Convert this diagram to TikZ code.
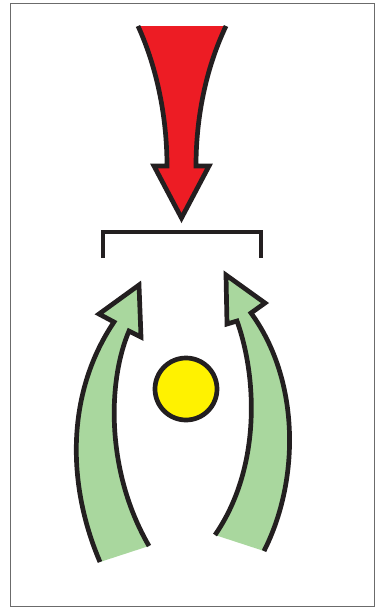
\documentclass[tikz,border=0pt]{standalone}
\definecolor{redA}{HTML}{ED1C24}
\definecolor{greenA}{HTML}{A9D79E}
\definecolor{yellowA}{HTML}{FFF200}
\definecolor{inkA}{HTML}{231F20}
\definecolor{frameA}{HTML}{6B6B6B}
\tikzset{
  outl/.style={draw=inkA,line width=4.7pt,line join=miter},
}
\begin{document}
\begin{tikzpicture}[x=1pt,y=-1pt]
\useasboundingbox (0,0) rectangle (376,608);
\draw[frameA,line width=1.2pt] (10.5,3.5) rectangle (374.5,606.5);
% red arrow
\fill[redA] (138,26) .. controls (158,70) and (167,120) .. (167,166) -- (154,166) -- (181.5,218) -- (209,166) -- (196,166) .. controls (196,120) and (205,70) .. (226,26) -- cycle;
\draw[outl] (138,26) .. controls (158,70) and (167,120) .. (167,166) -- (154,166) -- (181.5,218) -- (209,166) -- (196,166) .. controls (196,120) and (205,70) .. (226,26);
% bracket
\draw[outl] (103,258) -- (103,232) -- (261,232) -- (261,258);
% left green arrow
\fill[greenA] (100,562) .. controls (65,480) and (68,390) .. (114,322) -- (99,314) -- (139,285) -- (141,337) -- (129,331) .. controls (108,380) and (105,470) .. (149,546) -- cycle;
\draw[outl] (100,562) .. controls (65,480) and (68,390) .. (114,322) -- (99,314) -- (139,285) -- (141,337) -- (129,331) .. controls (108,380) and (105,470) .. (149,546);
% right green arrow
\fill[greenA] (215,535) .. controls (260,470) and (258,380) .. (237,321) -- (227,324) -- (226,275) -- (265,303) -- (251,313) .. controls (300,380) and (300,480) .. (264,551) -- cycle;
\draw[outl] (215,535) .. controls (260,470) and (258,380) .. (237,321) -- (227,324) -- (226,275) -- (265,303) -- (251,313) .. controls (300,380) and (300,480) .. (264,551);
% yellow circle
\node[circle,fill=yellowA,draw=inkA,line width=4.7pt,minimum size=62pt,inner sep=0pt] (sun) at (186,389) {};
\end{tikzpicture}
\end{document}
